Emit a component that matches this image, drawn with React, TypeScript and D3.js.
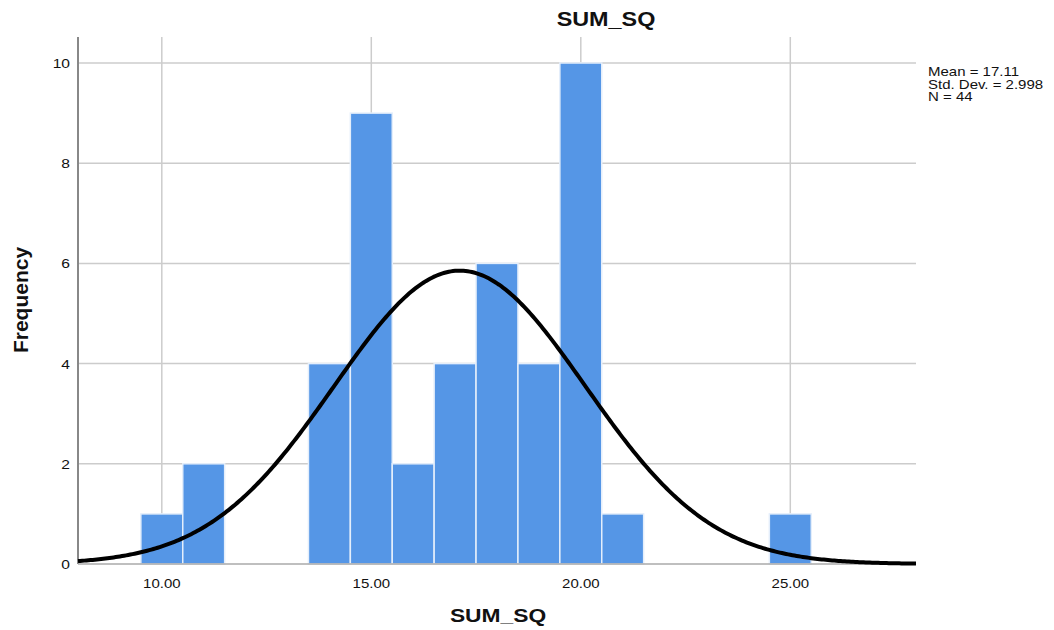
import { useEffect, useRef } from "react";
import * as d3 from "d3";

// bin centres (width 1) and counts
const binCenters = [10, 11, 14, 15, 16, 17, 18, 19, 20, 21, 25];
const binCounts = [1, 2, 4, 9, 2, 4, 6, 4, 10, 1, 1];
const xTicks = [10, 15, 20, 25];
const yTicks = [0, 2, 4, 6, 8, 10];
const statsLines = ["Mean = 17.11", "Std. Dev. = 2.998", "N = 44"];
const mean = 17.11;
const sd = 2.998;
const n = 44;

const W = 1054;
const H = 630;
const left = 78, right = 916, top = 37, bottom = 564;
const stretch = 1.2; // SPSS export text looks horizontally wide

export default function App() {
    const ref = useRef<SVGSVGElement>(null);

    useEffect(() => {
        const svg = d3.select(ref.current);
        svg.selectAll("*").remove();

        const x = d3.scaleLinear().domain([8, 28]).range([left, right]);
        const y = d3.scaleLinear().domain([0, 10]).range([bottom, 63]);

        const font = "'Liberation Sans', Arial, sans-serif";

        // text helper: stretched horizontally around its anchor
        const label = (tx: number, ty: number, s: string, size: number, anchor: string, bold = false) => {
            svg.append("g")
                .attr("transform", `translate(${tx},${ty}) scale(${stretch},1)`)
                .append("text")
                .attr("text-anchor", anchor)
                .attr("font-family", font)
                .attr("font-size", size)
                .attr("font-weight", bold ? "bold" : "normal")
                .attr("fill", "#111")
                .text(s);
        };

        // grid
        svg.append("g").selectAll("line")
            .data(yTicks.filter(d => d > 0))
            .join("line")
            .attr("x1", left).attr("x2", right)
            .attr("y1", d => y(d)).attr("y2", d => y(d))
            .attr("stroke", "#cccccc").attr("stroke-width", 1.5);
        svg.append("g").selectAll("line")
            .data(xTicks)
            .join("line")
            .attr("x1", d => x(d)).attr("x2", d => x(d))
            .attr("y1", top).attr("y2", bottom)
            .attr("stroke", "#cccccc").attr("stroke-width", 1.5);

        // bars
        svg.append("g").selectAll("rect")
            .data(binCenters)
            .join("rect")
            .attr("x", d => x(d - 0.5))
            .attr("y", (d, i) => y(binCounts[i]))
            .attr("width", x(1) - x(0))
            .attr("height", (d, i) => y(0) - y(binCounts[i]))
            .attr("fill", "#5596e6")
            .attr("stroke", "#e4eefb")
            .attr("stroke-width", 1.5);

        // axis lines
        svg.append("line")
            .attr("x1", left).attr("x2", left).attr("y1", top).attr("y2", bottom)
            .attr("stroke", "#888").attr("stroke-width", 2);
        svg.append("line")
            .attr("x1", left).attr("x2", right).attr("y1", bottom).attr("y2", bottom)
            .attr("stroke", "#aaa").attr("stroke-width", 1.5);

        // normal curve
        const pts = d3.range(8, 28.001, 0.05);
        const pdf = (v: number) => n * Math.exp(-0.5 * ((v - mean) / sd) ** 2) / (sd * Math.sqrt(2 * Math.PI));
        svg.append("path")
            .datum(pts)
            .attr("d", d3.line<number>().x(d => x(d)).y(d => y(pdf(d))))
            .attr("fill", "none")
            .attr("stroke", "#000")
            .attr("stroke-width", 4);

        // tick labels
        yTicks.forEach(d => label(70, y(d) + 5, String(d), 13, "end"));
        xTicks.forEach(d => label(x(d), 588, d.toFixed(2), 12.5, "middle"));

        // titles
        label(606, 26, "SUM_SQ", 19.5, "middle", true);
        label(498, 622, "SUM_SQ", 19, "middle", true);
        svg.append("text")
            .attr("transform", "translate(28,300) rotate(-90)")
            .attr("text-anchor", "middle")
            .attr("font-family", font).attr("font-size", 21).attr("font-weight", "bold")
            .attr("fill", "#111")
            .text("Frequency");

        // stats box
        statsLines.forEach((s, i) => label(928, 76 + i * 12.5, s, 12.5, "start"));
    }, []);

    return <svg ref={ref} width={W} height={H} style={{ position: "absolute", left: 0, top: 0, background: "#fff" }}></svg>;
}
